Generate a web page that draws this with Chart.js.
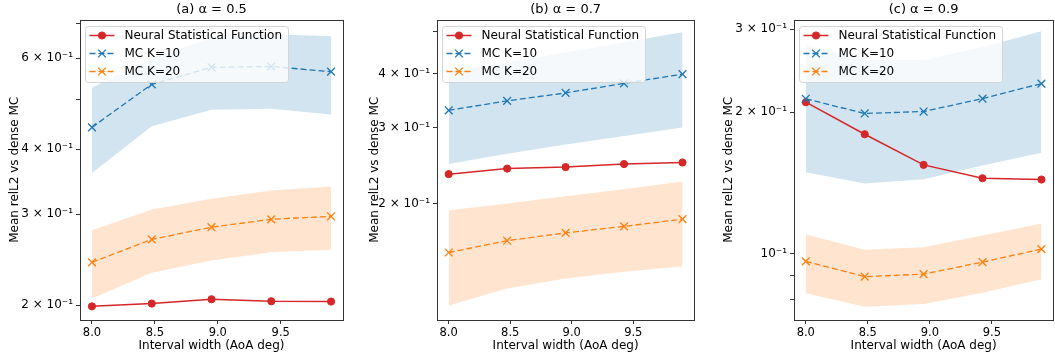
<!DOCTYPE html>
<html>
<head>
<meta charset="utf-8">
<script src="https://cdn.jsdelivr.net/npm/chart.js@4/dist/chart.umd.min.js"></script>
<style>
  html, body { margin: 0; padding: 0; background: #fff; }
  body { width: 1055px; height: 358px; overflow: hidden; position: relative; }
  canvas { position: absolute; top: 0; }
</style>
</head>
<body>
<canvas id="chartA" width="350" height="358" style="left:0px"></canvas>
<canvas id="chartB" width="351" height="358" style="left:350px"></canvas>
<canvas id="chartC" width="360" height="358" style="left:700px"></canvas>
<script>
// interval widths (x) shared by all three panels
const xVals = [8.0, 8.475, 8.95, 9.425, 9.9];
const xTicks = [8.0, 8.5, 9.0, 9.5];

// (a) alpha = 0.5
const nsfA   = [0.199, 0.2015, 0.2054, 0.2036, 0.2033];
const k10A   = [0.441, 0.534, 0.576, 0.578, 0.565];
const k10LoA = [0.360, 0.443, 0.477, 0.479, 0.467];
const k10HiA = [0.526, 0.600, 0.656, 0.667, 0.661];
const k20A   = [0.242, 0.268, 0.283, 0.293, 0.297];
const k20LoA = [0.206, 0.231, 0.244, 0.253, 0.256];
const k20HiA = [0.279, 0.306, 0.321, 0.333, 0.339];
const yTicksA  = [0.2, 0.3, 0.4, 0.5, 0.6, 0.7];
const yLabelsA = ['2 × 10⁻¹', '3 × 10⁻¹', '4 × 10⁻¹', '', '6 × 10⁻¹', ''];

// (b) alpha = 0.7
const nsfB   = [0.234, 0.241, 0.243, 0.247, 0.249];
const k10B   = [0.329, 0.346, 0.361, 0.380, 0.399];
const k10LoB = [0.247, 0.261, 0.274, 0.287, 0.300];
const k10HiB = [0.403, 0.425, 0.448, 0.473, 0.499];
const k20B   = [0.154, 0.164, 0.171, 0.177, 0.184];
const k20LoB = [0.116, 0.127, 0.134, 0.139, 0.143];
const k20HiB = [0.193, 0.200, 0.208, 0.216, 0.225];
const yTicksB  = [0.2, 0.3, 0.4, 0.5];
const yLabelsB = ['2 × 10⁻¹', '3 × 10⁻¹', '4 × 10⁻¹', ''];

// (c) alpha = 0.9
const nsfC   = [0.210, 0.1795, 0.1545, 0.1447, 0.1438];
const k10C   = [0.2135, 0.1987, 0.2006, 0.2137, 0.230];
const k10LoC = [0.149, 0.141, 0.144, 0.154, 0.164];
const k10HiC = [0.278, 0.258, 0.258, 0.275, 0.297];
const k20C   = [0.0963, 0.0894, 0.0905, 0.096, 0.1023];
const k20LoC = [0.0824, 0.0771, 0.0782, 0.0826, 0.0883];
const k20HiC = [0.110, 0.102, 0.1032, 0.1093, 0.1159];
const yTicksC  = [0.08, 0.09, 0.1, 0.2, 0.3];
const yLabelsC = ['', '', '10⁻¹', '2 × 10⁻¹', '3 × 10⁻¹'];

const RED = '#d62728', BLUE = '#1f77b4', ORANGE = '#ff7f0e';
const BLUE_BAND = 'rgba(31,119,180,0.2)', ORANGE_BAND = 'rgba(255,127,14,0.2)';
const AXIS = '#333';
const FONT = 'DejaVu Sans';

const pts = vals => xVals.map((x, i) => ({ x: x, y: vals[i] }));

// box around the plot area, like matplotlib spines
const frame = {
  id: 'frame',
  afterDatasetsDraw(chart) {
    const { ctx, chartArea: a } = chart;
    ctx.save();
    ctx.strokeStyle = AXIS;
    ctx.lineWidth = 1;
    ctx.strokeRect(Math.round(a.left) + 0.5, Math.round(a.top) + 0.5,
                   Math.round(a.right - a.left), Math.round(a.bottom - a.top));
    ctx.restore();
  }
};

// legend drawn inside the upper-left corner of the axes
const innerLegend = {
  id: 'innerLegend',
  afterDraw(chart) {
    const { ctx, chartArea: a } = chart;
    const items = chart.data.datasets.filter(d => d.label);
    ctx.save();
    ctx.font = '12px "' + FONT + '"';
    const tw = Math.max(...items.map(d => ctx.measureText(d.label).width));
    const x0 = Math.round(a.left) + 5.5, y0 = Math.round(a.top) + 6.5;
    ctx.beginPath();
    ctx.roundRect(x0, y0, Math.round(tw + 45), 56, 3);
    ctx.fillStyle = 'rgba(255,255,255,0.8)';
    ctx.fill();
    ctx.strokeStyle = '#d5d5d5';
    ctx.lineWidth = 1;
    ctx.stroke();
    items.forEach((d, i) => {
      const cy = y0 + 9 + i * 18;
      ctx.strokeStyle = d.borderColor;
      ctx.lineWidth = d.borderWidth;
      ctx.setLineDash(d.borderDash || []);
      ctx.beginPath();
      ctx.moveTo(x0 + 4, cy);
      ctx.lineTo(x0 + 29, cy);
      ctx.stroke();
      ctx.setLineDash([]);
      ctx.fillStyle = d.backgroundColor;
      ctx.strokeStyle = d.borderColor;
      ctx.lineWidth = d.pointBorderWidth;
      Chart.helpers.drawPoint(ctx, { pointStyle: d.pointStyle, radius: d.pointRadius,
        borderWidth: d.pointBorderWidth, rotation: 0 }, x0 + 16.5, cy);
      ctx.fillStyle = '#000';
      ctx.textBaseline = 'middle';
      ctx.fillText(d.label, x0 + 39, cy + 0.5);
    });
    ctx.restore();
  }
};

function makePanel(id, p) {
  const band = (vals, color, fill) => ({
    data: pts(vals), borderColor: 'rgba(0,0,0,0)', borderWidth: 0, pointRadius: 0,
    backgroundColor: color, fill: fill, order: 5
  });
  new Chart(document.getElementById(id), {
    type: 'line',
    data: {
      datasets: [
        { label: 'Neural Statistical Function', data: pts(p.nsf), borderColor: RED, backgroundColor: RED,
          borderWidth: 1.5, pointStyle: 'circle', pointRadius: 3.6, pointBorderWidth: 1, order: 2 },
        { label: 'MC K=10', data: pts(p.k10), borderColor: BLUE, backgroundColor: BLUE,
          borderWidth: 1.3, borderDash: [6, 3], pointStyle: 'crossRot', pointRadius: 5.5,
          pointBorderWidth: 1.3, order: 1 },
        { label: 'MC K=20', data: pts(p.k20), borderColor: ORANGE, backgroundColor: ORANGE,
          borderWidth: 1.3, borderDash: [6, 3], pointStyle: 'crossRot', pointRadius: 5.5,
          pointBorderWidth: 1.3, order: 0 },
        band(p.k10Hi, BLUE_BAND, '+1'),
        band(p.k10Lo, 'rgba(0,0,0,0)', false),
        band(p.k20Hi, ORANGE_BAND, '+1'),
        band(p.k20Lo, 'rgba(0,0,0,0)', false)
      ]
    },
    options: {
      responsive: false,
      animation: false,
      layout: { padding: { left: 0, right: p.padRight, top: 0, bottom: 0 } },
      plugins: {
        legend: { display: false },
        tooltip: { enabled: false },
        title: { display: true, text: p.title, fullSize: false, color: '#000',
                 font: { family: FONT, size: 13, weight: 'normal' }, padding: { top: 1.5, bottom: 2.5 } }
      },
      scales: {
        x: {
          type: 'linear', min: 7.905, max: 9.995, bounds: 'data',
          afterBuildTicks: s => { s.ticks = xTicks.map(v => ({ value: v })); },
          afterFit: s => { s.height = 38; },
          ticks: { autoSkip: false, maxRotation: 0, color: '#000', padding: 2.5,
                   font: { family: FONT, size: 11.5 }, callback: v => v.toFixed(1) },
          grid: { drawOnChartArea: false, drawTicks: true, tickLength: 4, tickColor: AXIS },
          border: { display: false },
          title: { display: true, text: 'Interval width (AoA deg)', color: '#000',
                   font: { family: FONT, size: 12 }, padding: { top: 0, bottom: 4.5 } }
        },
        y: {
          type: 'logarithmic', min: p.yMin, max: p.yMax, bounds: 'data',
          afterBuildTicks: s => { s.ticks = p.yTicks.map(v => ({ value: v })); },
          afterFit: s => { s.width = p.yWidth; },
          ticks: { autoSkip: false, color: '#000', padding: 3,
                   font: { family: FONT, size: 12 }, callback: (v, i) => p.yLabels[i] },
          grid: { drawOnChartArea: false, drawTicks: true, tickLength: 4, tickColor: AXIS },
          border: { display: false },
          title: { display: true, text: 'Mean relL2 vs dense MC', color: '#000',
                   font: { family: FONT, size: 12 }, padding: { top: p.yTitlePad, bottom: 0 } }
        }
      }
    },
    plugins: [frame, innerLegend]
  });
}

makePanel('chartA', { title: '(a) α = 0.5', nsf: nsfA, k10: k10A, k10Lo: k10LoA, k10Hi: k10HiA,
  k20: k20A, k20Lo: k20LoA, k20Hi: k20HiA, yTicks: yTicksA, yLabels: yLabelsA,
  yMin: 0.1873, yMax: 0.712, yWidth: 80, padRight: 7, yTitlePad: 8 });
makePanel('chartB', { title: '(b) α = 0.7', nsf: nsfB, k10: k10B, k10Lo: k10LoB, k10Hi: k10HiB,
  k20: k20B, k20Lo: k20LoB, k20Hi: k20HiB, yTicks: yTicksB, yLabels: yLabelsB,
  yMin: 0.1074, yMax: 0.534, yWidth: 87, padRight: 1, yTitlePad: 18 });
makePanel('chartC', { title: '(c) α = 0.9', nsf: nsfC, k10: k10C, k10Lo: k10LoC, k10Hi: k10HiC,
  k20: k20C, k20Lo: k20LoC, k20Hi: k20HiC, yTicks: yTicksC, yLabels: yLabelsC,
  yMin: 0.0723, yMax: 0.3146, yWidth: 94, padRight: 3, yTitlePad: 22 });
</script>
</body>
</html>
